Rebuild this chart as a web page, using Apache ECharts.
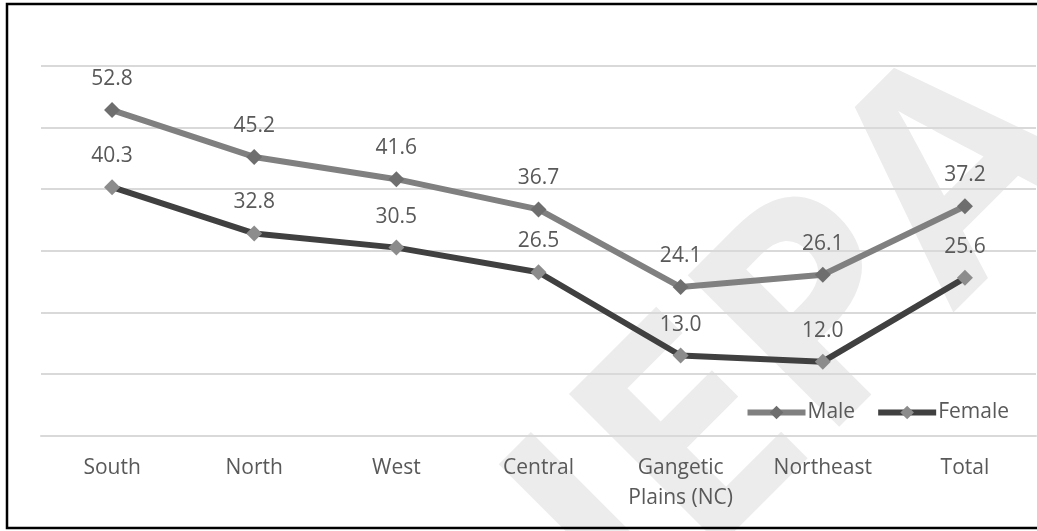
<!DOCTYPE html>
<html>
<head>
<meta charset="utf-8">
<script src="https://cdn.jsdelivr.net/npm/echarts@6/dist/echarts.min.js"></script>
<style>
  html, body { margin: 0; padding: 0; background: #fff; }
  #chart { width: 1037px; height: 531px; }
</style>
</head>
<body>
<div id="chart"></div>
<script>
// Regions and the share for each sex
const categories = ['South', 'North', 'West', 'Central', 'Gangetic\nPlains (NC)', 'Northeast', 'Total'];
const male = [52.8, 45.2, 41.6, 36.7, 24.1, 26.1, 37.2];
const female = [40.3, 32.8, 30.5, 26.5, 13.0, 12.0, 25.6];
const seriesNames = ['Male', 'Female'];

const FONT = '"Open Sans", "Noto Sans", sans-serif';
const textGrey = '#595959';

function lineSeries(name, data, lineColor, markerColor) {
  return {
    name: name,
    type: 'line',
    data: data,
    symbol: 'diamond',
    symbolSize: 16,
    z: 3,
    lineStyle: { color: lineColor, width: 6 },
    itemStyle: { color: markerColor, borderWidth: 0 },
    label: {
      show: true,
      position: 'top',
      distance: 11,
      color: textGrey,
      fontFamily: FONT,
      fontSize: 21,
      lineHeight: 24,
      formatter: p => p.value.toFixed(1)
    },
    emphasis: { disabled: true },
    animation: false
  };
}

const chart = echarts.init(document.getElementById('chart'), null, { renderer: 'canvas' });
chart.setOption({
  backgroundColor: '#ffffff',
  animation: false,
  graphic: [
    {
      // faint diagonal watermark behind the plot
      type: 'text',
      z: -10,
      silent: true,
      x: 805,
      y: 340,
      rotation: Math.PI / 4,
      style: {
        text: 'IEPA',
        font: 'bold 300px "Open Sans", sans-serif',
        fill: '#ececec',
        align: 'center',
        verticalAlign: 'middle'
      }
    },
    {
      type: 'rect',
      z: 100,
      silent: true,
      shape: { x: 7, y: 4, width: 1100, height: 524 },
      style: { fill: 'none', stroke: '#000000', lineWidth: 2.5 }
    }
  ],
  grid: { left: 41, right: 1, top: 65.7, bottom: 95.3 },
  legend: {
    data: seriesNames,
    right: 23,
    top: 397,
    itemWidth: 58,
    itemHeight: 17,
    itemGap: 20,
    lineStyle: { width: 6 },
    textStyle: { color: textGrey, fontFamily: FONT, fontSize: 21, padding: [0, 0, 0, -3] },
    selectedMode: false
  },
  xAxis: {
    type: 'category',
    data: categories,
    boundaryGap: true,
    axisLine: { show: true, lineStyle: { color: '#d9d9d9', width: 2 } },
    axisTick: { show: false },
    axisLabel: {
      color: textGrey,
      fontFamily: FONT,
      fontSize: 21,
      lineHeight: 30,
      margin: 17,
      interval: 0
    }
  },
  yAxis: {
    type: 'value',
    min: 0,
    max: 60,
    interval: 10,
    axisLabel: { show: false },
    axisLine: { show: false },
    axisTick: { show: false },
    splitLine: { lineStyle: { color: '#d9d9d9', width: 2 } }
  },
  series: [
    lineSeries('Male', male, '#808080', '#6e6e6e'),
    lineSeries('Female', female, '#404040', '#8c8c8c')
  ]
});
</script>
</body>
</html>
